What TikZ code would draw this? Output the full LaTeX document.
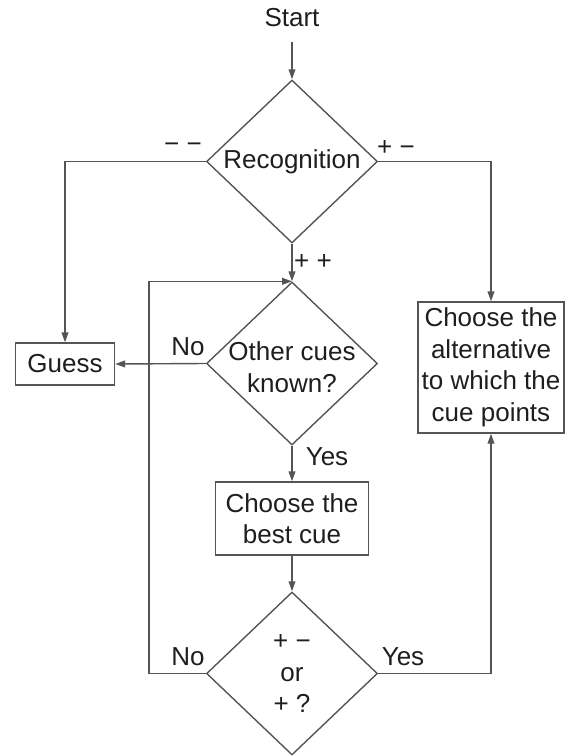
\documentclass[tikz,border=0pt]{standalone}
\usepackage{fontspec}
\setmainfont{Liberation Sans}
\usetikzlibrary{arrows.meta,positioning,calc,shapes.geometric}
\definecolor{linegray}{RGB}{85,85,85}
\definecolor{inkgray}{RGB}{30,30,30}

\begin{document}
\begin{tikzpicture}[x=0.5pt, y=-0.5pt, >={Triangle[length=5pt,width=3.4pt]},
    txt/.style={font=\fontsize{13}{15.75}\selectfont, text=inkgray},
    decision/.style={diamond, draw=linegray, line width=0.7pt, inner sep=0pt, minimum width=85.5pt, minimum height=81.5pt, align=center, txt},
    action/.style={rectangle, draw=linegray, line width=0.7pt, inner sep=1pt, align=center, txt},
    arrow/.style={->, line width=0.7pt, linegray},
    tag/.style={txt, inner sep=0pt}]

    \useasboundingbox (0,0) rectangle (565,756);

    % Start
    \node[tag] (start) at (292,18) {Start};

    % Decisions
    \node[decision] (recog) at (292,161.5) {Recognition};
    \node[decision] (others) at (292,363.5) {};
    \node[tag, align=center] (otherstext) at (292,367) {Other cues\\known?};
    \node[decision] (test) at (292,673.5) {+ −\\or\\+ ?};

    % Actions
    \node[action, minimum width=49.5pt, minimum height=21pt] (guess) at (65,364) {Guess};
    \node[action, minimum width=76.5pt, minimum height=36.5pt] (best) at (292,518.5) {Choose the\\best cue};
    \node[action, minimum width=73pt, minimum height=65.5pt] (altern) at (491,367.5) {Choose the\\alternative\\to which the\\cue points};

    % Connectors
    \draw[arrow] (start) ++(0,24) -- (recog.north);
    \draw[arrow] (recog.west) -| (guess.north);
    \draw[arrow] (recog.east) -| (altern.north);
    \draw[arrow] (recog.south) -- (others.north);
    \draw[arrow] (others.west) -- (guess.east);
    \draw[arrow] (others.south) -- (best.north);
    \draw[arrow] (best.south) -- (test.north);
    \draw[arrow] (test.west) -- ++(-57,0) |- (others.north);
    \draw[arrow] (test.east) -| (altern.south);

    % Labels
    \node[tag] (mm) at (183,148) {− −};
    \node[tag] (pm) at (396,148) {+ −};
    \node[tag] (pp) at (313,262) {+ +};
    \node[tag] (no1) at (188,347) {No};
    \node[tag] (yes1) at (327,457) {Yes};
    \node[tag] (no2) at (188,657) {No};
    \node[tag] (yes2) at (403,657) {Yes};

\end{tikzpicture}
\end{document}
